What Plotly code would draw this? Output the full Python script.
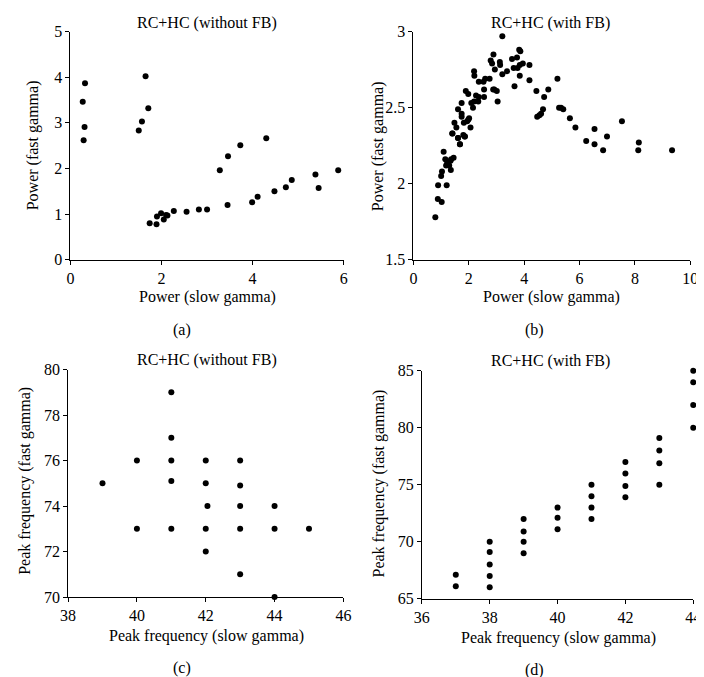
import plotly.graph_objects as go

# Panel (a): RC+HC (without FB) power
a_x = [0.32, 0.27, 0.31, 0.29, 1.65, 1.71, 1.57, 1.50, 4.30, 3.73, 3.46, 3.28, 5.88, 5.38,
       4.86, 5.45, 4.73, 4.48, 4.11, 3.99, 3.45, 3.00, 2.82, 2.55, 2.27, 2.13, 2.10, 1.99,
       1.90, 2.05, 1.74, 1.89]
a_y = [3.87, 3.46, 2.91, 2.62, 4.02, 3.32, 3.03, 2.83, 2.66, 2.51, 2.27, 1.96, 1.96, 1.87,
       1.75, 1.57, 1.59, 1.50, 1.38, 1.26, 1.20, 1.10, 1.10, 1.05, 1.07, 0.97, 0.98, 1.02,
       0.95, 0.88, 0.80, 0.78]

# Panel (b): RC+HC (with FB) power
b_x = [0.79, 0.88, 1.02, 0.89, 1.20, 1.00, 1.03, 1.35, 1.29, 1.18, 1.15, 1.45, 1.09, 1.36,
       1.41, 1.22, 1.34, 1.68, 1.61, 1.85, 1.40, 1.48, 1.55, 1.61, 1.61, 1.68, 1.74, 1.74,
       1.74, 1.80, 1.86, 1.82, 1.89, 1.98, 1.98, 1.94, 2.01, 2.06, 2.09, 2.15, 2.19, 2.19,
       2.20, 2.26, 2.34, 2.36, 2.36, 2.53, 2.55, 2.55, 2.59, 2.75, 2.79, 2.84, 2.89, 2.88,
       2.92, 2.94, 3.01, 3.04, 3.12, 3.13, 3.21, 3.21, 3.38, 3.56, 3.62, 3.65, 3.74, 3.76,
       3.82, 3.86, 3.84, 3.84, 3.95, 4.19, 4.19, 4.44, 4.47, 4.55, 4.61, 4.68, 4.72, 4.87,
       5.20, 5.26, 5.33, 5.41, 5.65, 5.85, 6.24, 6.54, 6.54, 6.85, 6.99, 7.53, 8.12, 8.14,
       9.34]
b_y = [1.78, 1.90, 1.88, 1.99, 1.99, 2.05, 2.08, 2.09, 2.12, 2.12, 2.16, 2.17, 2.21, 2.16,
       2.33, 2.14, 2.15, 2.26, 2.30, 2.31, 2.33, 2.40, 2.37, 2.49, 2.30, 2.26, 2.46, 2.44,
       2.53, 2.32, 2.31, 2.40, 2.61, 2.59, 2.42, 2.41, 2.43, 2.37, 2.53, 2.50, 2.54, 2.74,
       2.71, 2.58, 2.54, 2.67, 2.57, 2.67, 2.62, 2.57, 2.69, 2.69, 2.81, 2.79, 2.85, 2.62,
       2.62, 2.75, 2.61, 2.54, 2.80, 2.78, 2.72, 2.97, 2.74, 2.82, 2.76, 2.64, 2.83, 2.76,
       2.88, 2.87, 2.78, 2.71, 2.79, 2.78, 2.68, 2.61, 2.44, 2.45, 2.46, 2.49, 2.57, 2.62,
       2.69, 2.50, 2.50, 2.49, 2.43, 2.37, 2.28, 2.36, 2.26, 2.22, 2.31, 2.41, 2.22, 2.27,
       2.22]

# Panel (c): RC+HC (without FB) peak frequency
c_x = [41, 41, 40, 41, 42, 43, 39, 41, 42, 43, 42.05, 43, 44, 40, 41, 42, 43, 44, 45, 42, 43, 44]
c_y = [79, 77, 76, 76, 76, 76, 75, 75.1, 75, 74.9, 74, 74, 74, 73, 73, 73, 73, 73, 73, 72, 71, 70]

# Panel (d): RC+HC (with FB) peak frequency
d_x = [37, 37, 38, 38, 38, 38, 38, 39, 39, 39, 39, 40, 40, 40, 41, 41, 41, 41,
       42, 42, 42, 42, 43, 43, 43, 43, 44, 44, 44, 44]
d_y = [67.1, 66.1, 70, 69.1, 68, 67, 66, 72, 70.9, 70, 69, 73, 72.1, 71.1, 75, 74, 73, 72,
       77, 76, 74.9, 73.9, 79.1, 78, 76.9, 75, 85, 84, 82, 80]

titles = ["RC+HC (without FB)", "RC+HC (with FB)", "RC+HC (without FB)", "RC+HC (with FB)"]
xlabels = ["Power (slow gamma)", "Power (slow gamma)",
           "Peak frequency (slow gamma)", "Peak frequency (slow gamma)"]
ylabels = ["Power (fast gamma)", "Power (fast gamma)",
           "Peak frequency (fast gamma)", "Peak frequency (fast gamma)"]
panel_tags = ["(a)", "(b)", "(c)", "(d)"]

W, H = 704, 677
FONT = "Liberation Serif, Times New Roman, serif"

# pixel boxes of the plot areas: (left, right, top, bottom)
boxes = [(55.7, 335.3, 16, 250), (406.7, 690, 16, 250),
         (53.3, 335, 362.7, 596), (415.3, 693, 364, 597.7)]
ranges = [([0, 6], [0, 5]), ([0, 10], [1.5, 3]), ([38, 46], [70, 80]), ([36, 44], [65, 85])]
xticks = [[0, 2, 4, 6], [0, 2, 4, 6, 8, 10], [38, 40, 42, 44, 46], [36, 38, 40, 42, 44]]
yticks = [[0, 1, 2, 3, 4, 5], [1.5, 2, 2.5, 3], [70, 72, 74, 76, 78, 80], [65, 70, 75, 80, 85]]

fig = go.Figure()
data = [(a_x, a_y), (b_x, b_y), (c_x, c_y), (d_x, d_y)]
for i, (xs, ys) in enumerate(data):
    n = "" if i == 0 else str(i + 1)
    fig.add_trace(go.Scatter(x=xs, y=ys, mode="markers", xaxis="x" + n, yaxis="y" + n,
                             marker=dict(color="black", size=6), cliponaxis=False,
                             showlegend=False))
    l, r, t, b = boxes[i]
    axcommon = dict(showline=True, linecolor="black", linewidth=1, ticks="outside",
                    ticklen=4, tickcolor="black", showgrid=False, zeroline=False,
                    tickfont=dict(family=FONT, size=16, color="black"))
    fig.layout["xaxis" + n] = dict(domain=[l / W, r / W], range=ranges[i][0],
                                   tickvals=xticks[i], anchor="y" + n, **axcommon)
    fig.layout["yaxis" + n] = dict(domain=[1 - b / H, 1 - t / H], range=ranges[i][1],
                                   tickvals=yticks[i], anchor="x" + n, **axcommon)

# text positions in pixels
title_pos = [(195, 7), (547, 7), (195, 353), (547, 354)]
xlab_pos = [(196, 288), (548, 288), (195, 636), (555, 638)]
tag_pos = [(170, 322), (531, 322), (170, 669), (531, 671)]
ylab_pos = [(17, 133), (370, 134), (9, 477), (371, 480)]

ann = []
def add(text, px, py, angle=0):
    ann.append(dict(text=text, x=px / W, y=1 - py / H, xref="paper", yref="paper",
                    xanchor="center", yanchor="middle", showarrow=False, textangle=angle,
                    font=dict(family=FONT, size=16, color="black")))

for i in range(4):
    add(titles[i], *title_pos[i])
    add(xlabels[i], *xlab_pos[i])
    add(panel_tags[i], *tag_pos[i])
    add(ylabels[i], *ylab_pos[i], angle=-90)

fig.update_layout(width=W, height=H, margin=dict(l=0, r=0, t=0, b=0),
                  paper_bgcolor="white", plot_bgcolor="white", annotations=ann,
                  font=dict(family=FONT, size=16, color="black"))

fig.write_html("out.html")
